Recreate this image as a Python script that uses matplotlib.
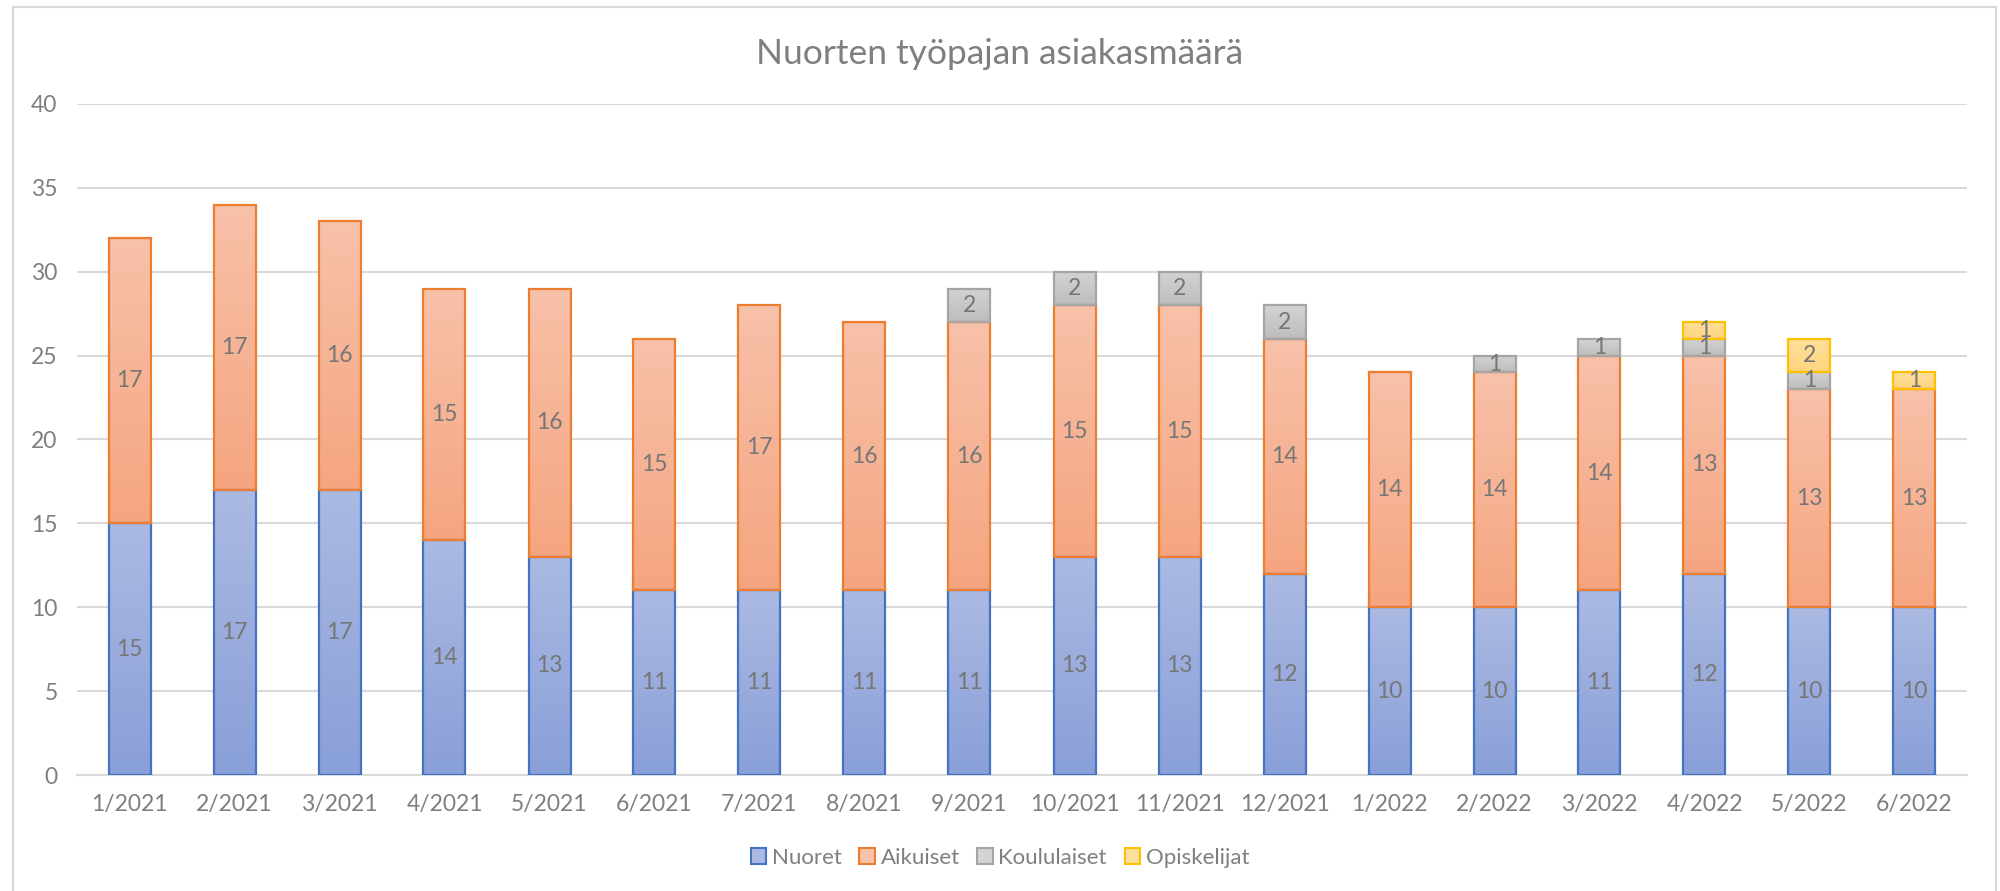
import numpy as np
import matplotlib.pyplot as plt
from matplotlib.patches import Rectangle
from matplotlib.lines import Line2D
from matplotlib.colors import LinearSegmentedColormap

plt.rcParams['font.family'] = ['Lato', 'DejaVu Sans']

kuukaudet = ["1/2021", "2/2021", "3/2021", "4/2021", "5/2021", "6/2021",
             "7/2021", "8/2021", "9/2021", "10/2021", "11/2021", "12/2021",
             "1/2022", "2/2022", "3/2022", "4/2022", "5/2022", "6/2022"]
nuoret = [15, 17, 17, 14, 13, 11, 11, 11, 11, 13, 13, 12, 10, 10, 11, 12, 10, 10]
aikuiset = [17, 17, 16, 15, 16, 15, 17, 16, 16, 15, 15, 14, 14, 14, 14, 13, 13, 13]
koululaiset = [0, 0, 0, 0, 0, 0, 0, 0, 2, 2, 2, 2, 0, 1, 1, 1, 1, 0]
opiskelijat = [0, 0, 0, 0, 0, 0, 0, 0, 0, 0, 0, 0, 0, 0, 0, 1, 2, 1]

sarjat = ["Nuoret", "Aikuiset", "Koululaiset", "Opiskelijat"]
arvot = [nuoret, aikuiset, koululaiset, opiskelijat]
# (ylävari, alavari, reuna)
varit = [("#abbae2", "#899fd8", "#4472c4"),
         ("#f8c1a9", "#f5a580", "#ed7d31"),
         ("#d3d3d3", "#bdbdbd", "#a5a5a5"),
         ("#ffdf9c", "#ffd47e", "#ffc000")]

harmaa = "#7f7f7f"
viiva = "#d9d9d9"

fig = plt.figure(figsize=(20, 8.91), dpi=100)
ax = fig.add_axes([77 / 2000, 1 - 775 / 891, 1890 / 2000, (775 - 104) / 891])

x = np.arange(len(kuukaudet))
pohja = np.zeros(len(kuukaudet))
gradientti = np.linspace(0, 1, 100).reshape(-1, 1)

for nimi, data, (yla, ala, reuna) in zip(sarjat, arvot, varit):
    data = np.array(data)
    palkit = ax.bar(x, data, 0.4, bottom=pohja, facecolor="none",
                    edgecolor=reuna, linewidth=1.6, zorder=4)
    cmap = LinearSegmentedColormap.from_list(nimi, [ala, yla])
    for p, v in zip(palkit, data):
        if v == 0:
            p.set_visible(False)
            continue
        x0, y0 = p.get_x(), p.get_y()
        im = ax.imshow(gradientti, cmap=cmap, origin="lower", aspect="auto",
                       extent=[x0, x0 + p.get_width(), y0, y0 + p.get_height()],
                       zorder=3, interpolation="bicubic")
        im.set_clip_path(p)
    tekstit = [str(v) if v > 0 else "" for v in data]
    ax.bar_label(palkit, labels=tekstit, label_type="center",
                 fontsize=16.5, color="#767676", zorder=5)
    pohja = pohja + data

ax.set_xlim(-0.5, len(kuukaudet) - 0.5)
ax.set_ylim(0, 40)
ax.set_yticks(range(0, 41, 5))
ax.set_xticks(x)
ax.set_xticklabels(kuukaudet)
ax.tick_params(axis="both", length=0, labelsize=16.5, labelcolor=harmaa)
ax.tick_params(axis="y", pad=14)
ax.tick_params(axis="x", pad=14)
ax.yaxis.grid(True, color=viiva, linewidth=1.5)
ax.set_axisbelow(True)
for s in ["top", "right", "left"]:
    ax.spines[s].set_visible(False)
ax.spines["bottom"].set_color(viiva)
ax.spines["bottom"].set_linewidth(1.5)

fig.text(0.5, 1 - 54 / 891, "Nuorten työpajan asiakasmäärä", ha="center",
         va="center", fontsize=25.5, color=harmaa)

kahvat = [Rectangle((0, 0), 1, 1, facecolor=(yla), edgecolor=reuna, linewidth=1.5)
          for yla, ala, reuna in varit]
fig.legend(kahvat, sarjat, loc="center", bbox_to_anchor=(1000 / 2000, 1 - 858 / 891),
           ncol=4, frameon=False, fontsize=16, labelcolor=harmaa,
           handlelength=0.7, handleheight=0.7, handletextpad=0.25, columnspacing=0.8)

# kaavion kehys
kehys = dict(transform=fig.transFigure, color=viiva, linewidth=1.5)
fig.add_artist(Line2D([13 / 2000, 13 / 2000], [0, 1 - 7 / 891], **kehys))
fig.add_artist(Line2D([13 / 2000, 1996 / 2000], [1 - 7 / 891, 1 - 7 / 891], **kehys))
fig.add_artist(Line2D([1996 / 2000, 1996 / 2000], [0, 1 - 7 / 891], **kehys))

fig.savefig("out.png", dpi=100)
